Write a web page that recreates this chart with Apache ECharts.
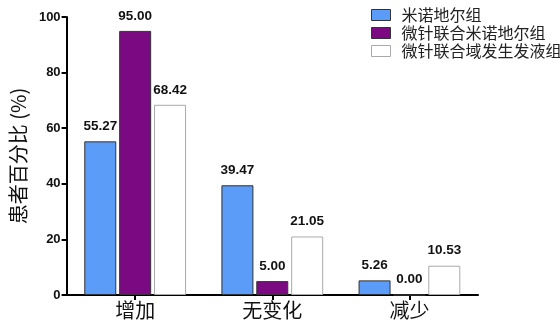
<!DOCTYPE html>
<html><head><meta charset="utf-8">
<script src="https://cdn.jsdelivr.net/npm/echarts@6/dist/echarts.min.js"></script>
<style>html,body{margin:0;padding:0;background:#fff}#c{width:560px;height:323px}</style>
</head><body><div id="c"></div>
<script>
const categories = ['增加', '无变化', '减少'];
const seriesNames = ['米诺地尔组', '微针联合米诺地尔组', '微针联合域发生发液组'];
const groupA = [55.27, 39.47, 5.26];
const groupB = [95.00, 5.00, 0.00];
const groupC = [68.42, 21.05, 10.53];
const yTicks = [0, 20, 40, 60, 80, 100];

const chart = echarts.init(document.getElementById('c'));
const cjk = '"Noto Sans CJK SC", sans-serif';
const colors = ['#5a9cf8', '#7b0a82', '#ffffff'];
const borders = ['#333333', '#333333', '#aaaaaa'];
const datas = [groupA, groupB, groupC];
chart.setOption({
  animation: false,
  grid: {left: 64, right: 82, top: 17, bottom: 28},
  legend: {
    orient: 'vertical', left: 366, top: 2, itemWidth: 19, itemHeight: 11, itemGap: 2, icon: 'rect',
    textStyle: {fontFamily: cjk, fontSize: 16, color: '#222', padding: [0, 0, 0, 6]},
    data: seriesNames.map((n, i) => ({name: n, itemStyle: {color: colors[i], borderColor: borders[i], borderWidth: 1}}))
  },
  xAxis: {
    type: 'category', data: categories,
    axisLine: {lineStyle: {color: '#000', width: 2}},
    axisTick: {show: true, alignWithLabel: true, length: 5, lineStyle: {width: 2}},
    axisLabel: {fontFamily: cjk, fontSize: 20, color: '#111', margin: 5}
  },
  yAxis: {
    type: 'value', min: yTicks[0], max: yTicks[yTicks.length - 1], interval: 20,
    name: '患者百分比 (%)', nameLocation: 'middle', nameRotate: 90, nameGap: 37,
    nameTextStyle: {fontFamily: cjk, fontSize: 20, color: '#111'},
    axisLine: {show: true, lineStyle: {color: '#000', width: 2}},
    axisTick: {show: true, length: 5, lineStyle: {width: 2}},
    splitLine: {show: false},
    axisLabel: {fontFamily: 'Arial, "Liberation Sans", sans-serif', fontWeight: 'bold', fontSize: 13, color: '#111', margin: 6}
  },
  series: seriesNames.map((n, i) => ({
    name: n, type: 'bar', data: datas[i], barWidth: 32, barGap: '9%',
    itemStyle: {color: colors[i], borderColor: borders[i], borderWidth: 1},
    label: {show: true, position: 'top', distance: 8, formatter: p => p.value.toFixed(2),
      fontFamily: 'Arial, "Liberation Sans", sans-serif', fontWeight: 'bold', fontSize: 13.5, color: '#111'}
  }))
});
</script></body></html>
